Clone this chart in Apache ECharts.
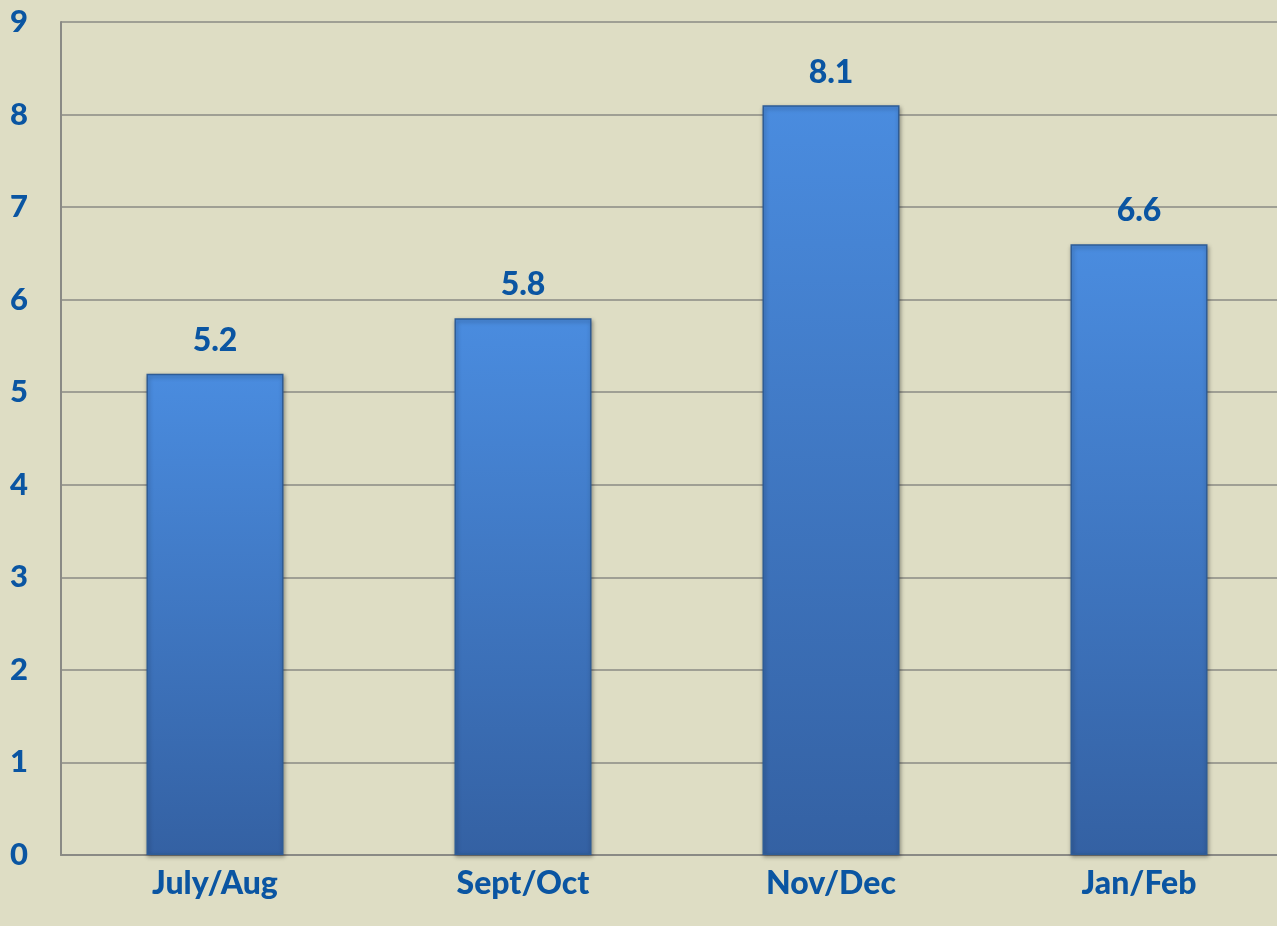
<!DOCTYPE html>
<html><head><meta charset="utf-8">
<script src="https://cdn.jsdelivr.net/npm/echarts@6/dist/echarts.min.js"></script>
<style>html,body{margin:0;padding:0;background:#DEDDC4;overflow:hidden;}#c{width:1293px;height:926px;}</style>
</head><body><div id="c"></div>
<script>
const categories = ['July/Aug', 'Sept/Oct', 'Nov/Dec', 'Jan/Feb'];
const values = [5.2, 5.8, 8.1, 6.6];
const yTicks = [0, 1, 2, 3, 4, 5, 6, 7, 8, 9];

const chart = echarts.init(document.getElementById('c'));
const txt = '#0A55A2';
const font = 'Lato, "Open Sans", sans-serif';
chart.setOption({
  backgroundColor: '#DEDDC4',
  animation: false,
  grid: { left: 61, right: 0, top: 22, bottom: 71 },
  xAxis: {
    type: 'category', data: categories,
    axisLine: { show: true, lineStyle: { color: '#8A8A85', width: 2 } },
    axisTick: { show: false },
    axisLabel: { color: txt, fontSize: 32, fontWeight: 900, fontFamily: font, margin: 13 }
  },
  yAxis: {
    type: 'value', min: yTicks[0], max: yTicks[yTicks.length - 1], interval: 1,
    axisLine: { show: true, lineStyle: { color: '#8A8A85', width: 2 } },
    axisTick: { show: false },
    splitLine: { lineStyle: { color: '#8A8A85', width: 1.5 } },
    axisLabel: { color: txt, fontSize: 31, fontWeight: 900, fontFamily: font, margin: 33 }
  },
  series: [{
    type: 'bar', data: values, barWidth: 137,
    itemStyle: {
      color: new echarts.graphic.LinearGradient(0, 0, 0, 1, [
        { offset: 0, color: '#4A8CDF' },
        { offset: 1, color: '#3461A3' }
      ]),
      borderColor: '#2E5C96', borderWidth: 1.5,
      shadowColor: 'rgba(0,0,0,0.35)', shadowBlur: 4, shadowOffsetX: 1, shadowOffsetY: 2
    },
    label: { show: true, position: 'top', distance: 17, color: txt, fontSize: 32, fontWeight: 900, fontFamily: font }
  }]
});
</script></body></html>
